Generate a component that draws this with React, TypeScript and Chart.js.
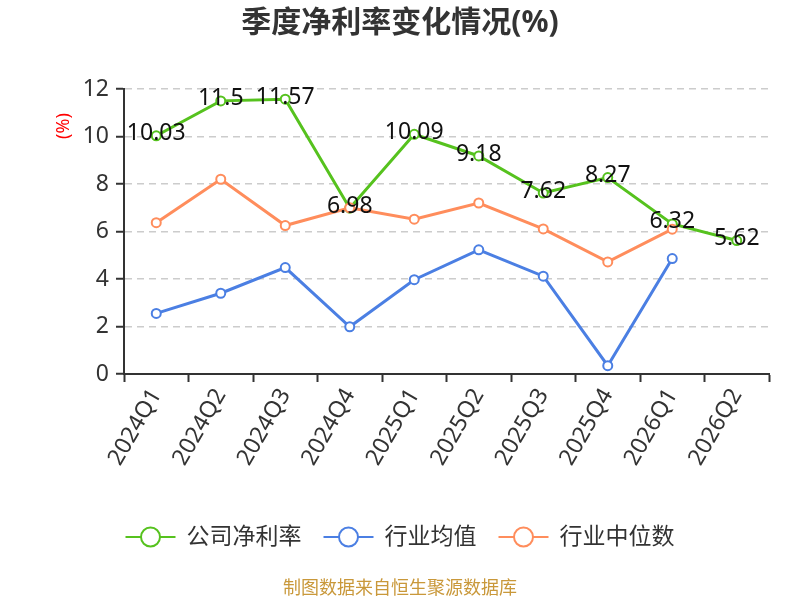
import React, { useEffect, useRef } from "react";
import { Chart, registerables } from "chart.js";

Chart.register(...registerables);

const FONT = '"Noto Sans", "Noto Sans CJK SC", sans-serif';

const titleText = "季度净利率变化情况(%)";
const yAxisTitle = "(%)";
const sourceText = "制图数据来自恒生聚源数据库";

const categories = [
  "2024Q1", "2024Q2", "2024Q3", "2024Q4",
  "2025Q1", "2025Q2", "2025Q3", "2025Q4",
  "2026Q1", "2026Q2",
];

const companyNetMargin = [10.03, 11.5, 11.57, 6.98, 10.09, 9.18, 7.62, 8.27, 6.32, 5.62];
const industryMean = [2.55, 3.4, 4.48, 1.99, 3.97, 5.23, 4.12, 0.35, 4.86, null];
const industryMedian = [6.37, 8.2, 6.25, 7.0, 6.52, 7.2, 6.11, 4.72, 6.1, null];

const seriesNames = ["公司净利率", "行业均值", "行业中位数"];
const seriesColors = ["#56c21e", "#4b7fe3", "#ff8d5c"];

const yMin = 0;
const yMax = 12;
const yStep = 2;

const overlayPlugin = {
  id: "overlay",
  afterDatasetsDraw(chart: any) {
    const ctx = chart.ctx;
    const meta = chart.getDatasetMeta(0);
    const vals = chart.data.datasets[0].data;
    ctx.save();
    ctx.font = `23px ${FONT}`;
    ctx.fillStyle = "#111";
    ctx.textAlign = "center";
    ctx.textBaseline = "middle";
    meta.data.forEach((pt: any, i: number) => {
      const v = vals[i];
      if (v === null || v === undefined) return;
      ctx.fillText(String(v), pt.x, pt.y - 2);
    });
    ctx.restore();
  },
  afterDraw(chart: any) {
    const ctx = chart.ctx;
    const area = chart.chartArea;
    ctx.save();
    ctx.font = `bold 30px ${FONT}`;
    ctx.fillStyle = "#333";
    ctx.textAlign = "center";
    ctx.textBaseline = "middle";
    ctx.fillText(titleText, 400, 23);

    ctx.save();
    ctx.translate(area.left - 60.5, area.top + 37);
    ctx.rotate(-Math.PI / 2);
    ctx.font = `18px ${FONT}`;
    ctx.fillStyle = "#ff0000";
    ctx.textAlign = "center";
    ctx.textBaseline = "middle";
    ctx.fillText(yAxisTitle, 0, 0);
    ctx.restore();

    ctx.font = `23px ${FONT}`;
    const lineLen = 50;
    const textGap = 11;
    const itemGap = 22;
    const widths = chart.data.datasets.map(
      (d: any) => lineLen + textGap + ctx.measureText(d.label).width
    );
    const total = widths.reduce((a: number, b: number) => a + b, 0) + itemGap * (widths.length - 1);
    let x = 400 - total / 2;
    const ly = 537;
    chart.data.datasets.forEach((d: any, i: number) => {
      ctx.strokeStyle = d.borderColor;
      ctx.lineWidth = 2;
      ctx.beginPath();
      ctx.moveTo(x, ly);
      ctx.lineTo(x + lineLen, ly);
      ctx.stroke();
      ctx.beginPath();
      ctx.arc(x + lineLen / 2, ly, 9.5, 0, Math.PI * 2);
      ctx.fillStyle = "#fff";
      ctx.fill();
      ctx.stroke();
      ctx.fillStyle = "#333";
      ctx.textAlign = "left";
      ctx.textBaseline = "middle";
      ctx.fillText(d.label, x + lineLen + textGap, ly);
      x += widths[i] + itemGap;
    });

    ctx.font = `18px ${FONT}`;
    ctx.fillStyle = "#c9983a";
    ctx.textAlign = "center";
    ctx.textBaseline = "middle";
    ctx.fillText(sourceText, 400, 589);
    ctx.restore();
  },
};

export default function App() {
  const canvasRef = useRef<HTMLCanvasElement | null>(null);

  useEffect(() => {
    if (!canvasRef.current) return;
    Chart.defaults.font.family = FONT;
    const seriesData = [companyNetMargin, industryMean, industryMedian];
    const chart = new Chart(canvasRef.current, {
      type: "line",
      data: {
        labels: categories,
        datasets: seriesData.map((data, i) => ({
          label: seriesNames[i],
          data,
          borderColor: seriesColors[i],
          backgroundColor: seriesColors[i],
          borderWidth: 3,
          tension: 0,
          pointRadius: 4.5,
          pointHoverRadius: 4.5,
          pointBorderWidth: 2,
          pointBackgroundColor: "#fff",
          pointBorderColor: seriesColors[i],
          order: 3 - i,
        })),
      },
      options: {
        responsive: false,
        animation: false,
        layout: { padding: { top: 89, right: 31, left: 0, bottom: 0 } },
        plugins: {
          legend: { display: false },
          title: { display: false },
          tooltip: { enabled: false },
        },
        scales: {
          x: {
            type: "category",
            offset: true,
            grid: {
              display: true,
              offset: true,
              drawOnChartArea: false,
              drawTicks: true,
              tickLength: 8,
              tickColor: "#333",
              tickWidth: 2,
            },
            border: { display: true, color: "#333", width: 2 },
            ticks: {
              font: { size: 23, family: FONT },
              color: "#333",
              maxRotation: 60,
              minRotation: 60,
              autoSkip: false,
              padding: 2,
            },
            afterFit: (s: any) => {
              s.height = 226;
            },
          },
          y: {
            min: yMin,
            max: yMax,
            ticks: {
              stepSize: yStep,
              font: { size: 23, family: FONT },
              color: "#333",
              padding: 7,
            },
            grid: {
              color: "#cccccc",
              lineWidth: 1.5,
              tickColor: "#333",
              tickLength: 8,
              tickWidth: 2,
              drawTicks: true,
              tickBorderDash: [],
            },
            border: { display: true, color: "#333", width: 2, dash: [7, 5] },
            afterFit: (s: any) => {
              s.width = 124;
            },
          },
        },
      },
      plugins: [overlayPlugin],
    } as any);
    return () => chart.destroy();
  }, []);

  return (
    <div style={{ position: "fixed", left: 0, top: 0, width: 800, height: 600, background: "#fff" }}>
      <canvas ref={canvasRef} width={800} height={600} />
    </div>
  );
}
